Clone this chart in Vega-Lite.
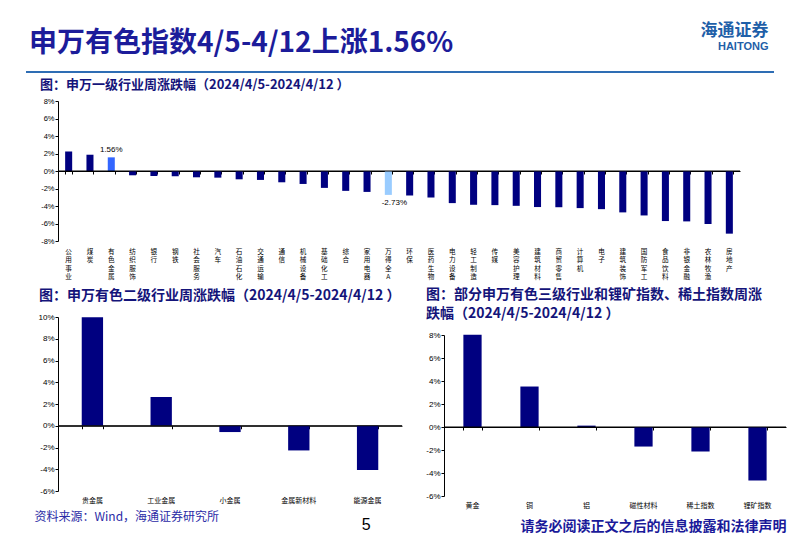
{
  "$schema": "https://vega.github.io/schema/vega-lite/v6.json",
  "padding": {"left": 25, "top": 22, "right": 0, "bottom": 0},
  "background": "white",
  "title": {"text": "海通证券", "subtitle": "HAITONG", "anchor": "end", "orient": "top", "offset": -23, "dx": -18, "fontSize": 17, "font": "Noto Sans CJK SC", "fontWeight": "bold", "color": "#1F5FA8", "subtitleFont": "Liberation Sans", "subtitleFontWeight": "bold", "subtitleFontSize": 11, "subtitleColor": "#1F5FA8", "subtitlePadding": 1},
  "datasets": {
    "top": [
      {"name": "公用事业", "v": 2.23, "g": "o"},
      {"name": "煤炭", "v": 1.86, "g": "o"},
      {"name": "有色金属", "v": 1.56, "g": "y", "lbl": "1.56%"},
      {"name": "纺织服饰", "v": -0.49, "g": "o"},
      {"name": "银行", "v": -0.57, "g": "o"},
      {"name": "钢铁", "v": -0.60, "g": "o"},
      {"name": "社会服务", "v": -0.72, "g": "o"},
      {"name": "汽车", "v": -0.76, "g": "o"},
      {"name": "石油石化", "v": -0.95, "g": "o"},
      {"name": "交通运输", "v": -1.02, "g": "o"},
      {"name": "通信", "v": -1.29, "g": "o"},
      {"name": "机械设备", "v": -1.48, "g": "o"},
      {"name": "基础化工", "v": -1.93, "g": "o"},
      {"name": "综合", "v": -2.27, "g": "o"},
      {"name": "家用电器", "v": -2.39, "g": "o"},
      {"name": "万得全A", "v": -2.73, "g": "a", "lbl": "-2.73%"},
      {"name": "环保", "v": -2.80, "g": "o"},
      {"name": "医药生物", "v": -3.03, "g": "o"},
      {"name": "电力设备", "v": -3.67, "g": "o"},
      {"name": "轻工制造", "v": -3.86, "g": "o"},
      {"name": "传媒", "v": -3.90, "g": "o"},
      {"name": "美容护理", "v": -3.98, "g": "o"},
      {"name": "建筑材料", "v": -4.12, "g": "o"},
      {"name": "商贸零售", "v": -4.14, "g": "o"},
      {"name": "计算机", "v": -4.24, "g": "o"},
      {"name": "电子", "v": -4.36, "g": "o"},
      {"name": "建筑装饰", "v": -4.73, "g": "o"},
      {"name": "国防军工", "v": -5.08, "g": "o"},
      {"name": "食品饮料", "v": -5.72, "g": "o"},
      {"name": "非银金融", "v": -5.76, "g": "o"},
      {"name": "农林牧渔", "v": -6.06, "g": "o"},
      {"name": "房地产", "v": -7.16, "g": "o"}
    ],
    "l2": [
      {"name": "贵金属", "v": 9.98},
      {"name": "工业金属", "v": 2.64},
      {"name": "小金属", "v": -0.58},
      {"name": "金属新材料", "v": -2.27},
      {"name": "能源金属", "v": -4.08}
    ],
    "l3": [
      {"name": "黄金", "v": 8.02},
      {"name": "铜", "v": 3.52},
      {"name": "铝", "v": 0.12},
      {"name": "磁性材料", "v": -1.70},
      {"name": "稀土指数", "v": -2.14},
      {"name": "锂矿指数", "v": -4.65}
    ],
    "zero": [{"z": 0}],
    "line": [{"a": 0, "b": 1}]
  },
  "config": {"view": {"stroke": null}, "axis": {"grid": false}},
  "spacing": 6,
  "resolve": {"scale": {"x": "independent", "y": "independent", "color": "independent"}},
  "vconcat": [
    {
      "width": 716,
      "height": 2,
      "title": {"text": "申万有色指数4/5-4/12上涨1.56%", "anchor": "start", "frame": "group", "dx": -29, "offset": 13, "fontSize": 28, "fontWeight": "bold", "font": "Noto Sans CJK SC", "color": "#1C1C9A"},
      "data": {"name": "line"},
      "mark": {"type": "rule", "color": "#2E6DB4", "strokeWidth": 2},
      "encoding": {
        "x": {"field": "a", "type": "quantitative", "scale": {"domain": [0, 1], "range": [-32, 716]}, "axis": null},
        "x2": {"field": "b"}
      }
    },
    {
      "spacing": 7,
      "resolve": {"scale": {"x": "independent", "y": "independent", "color": "independent"}},
      "vconcat": [
        {
          "width": 682,
          "height": 140,
          "title": {"text": "图：申万一级行业周涨跌幅（2024/4/5-2024/4/12 ）", "anchor": "start", "frame": "group", "dx": -18, "offset": 5, "fontSize": 13, "fontWeight": "bold", "font": "Noto Sans CJK SC", "color": "#14147A"},
          "data": {"name": "top"},
          "resolve": {"axis": {"x": "independent"}},
          "layer": [
            {
              "mark": {"type": "bar"},
              "encoding": {
                "x": {"field": "name", "type": "nominal", "sort": null, "scale": {"paddingInner": 0.67, "paddingOuter": 0.335},
                  "axis": {"orient": "bottom", "title": null, "labelAngle": 0, "labelExpr": "split(datum.label, '')", "labelFontSize": 6.6, "labelLineHeight": 8.6, "labelPadding": 7, "labelBaseline": "top", "ticks": false, "domain": false, "labelFont": "Noto Sans CJK SC", "labelColor": "#000", "labelOverlap": false}},
                "y": {"field": "v", "type": "quantitative", "scale": {"domain": [-8, 8], "nice": false},
                  "axis": {"values": [-8, -6, -4, -2, 0, 2, 4, 6, 8], "tickCount": 20, "labelExpr": "datum.value + '%'", "title": null, "labelFontSize": 7.5, "labelFont": "Liberation Sans", "labelColor": "#000", "tickSize": 3, "tickColor": "#000", "domainColor": "#000", "minExtent": 31, "labelPadding": 1, "labelOverlap": false}},
                "color": {"field": "g", "type": "nominal", "scale": {"domain": ["o", "y", "a"], "range": ["#000080", "#3366FF", "#99CCFF"]}, "legend": null}
              }
            },
            {
              "mark": {"type": "text", "text": ""},
              "encoding": {
                "x": {"field": "name", "type": "nominal", "sort": null,
                  "axis": {"orient": "top", "offset": -70, "labels": false, "title": null, "ticks": true, "domain": true, "tickBand": "extent", "tickSize": -3, "tickColor": "#000", "domainColor": "#000"}}
              }
            },
            {
              "data": {"name": "zero"},
              "mark": {"type": "rule", "color": "#000", "strokeWidth": 1},
              "encoding": {"y": {"field": "z", "type": "quantitative"}}
            },
            {
              "transform": [{"filter": "datum.lbl && datum.v > 0"}],
              "mark": {"type": "text", "baseline": "bottom", "dy": -3, "fontSize": 8, "font": "Liberation Sans", "color": "#000"},
              "encoding": {"x": {"field": "name", "type": "nominal", "sort": null, "axis": null}, "y": {"field": "v", "type": "quantitative"}, "text": {"field": "lbl", "type": "nominal"}}
            },
            {
              "transform": [{"filter": "datum.lbl && datum.v < 0"}],
              "mark": {"type": "text", "baseline": "top", "dy": 4, "dx": 6, "fontSize": 8, "font": "Liberation Sans", "color": "#000"},
              "encoding": {"x": {"field": "name", "type": "nominal", "sort": null, "axis": null}, "y": {"field": "v", "type": "quantitative"}, "text": {"field": "lbl", "type": "nominal"}}
            }
          ]
        },
        {
          "spacing": 22,
          "resolve": {"scale": {"x": "independent", "y": "independent", "color": "independent"}},
          "title": {"text": "5", "orient": "bottom", "anchor": "middle", "dx": -40, "offset": -16, "fontSize": 16, "fontWeight": "normal", "font": "Liberation Sans", "color": "#000"},
          "hconcat": [
            {
              "width": 344,
              "height": 174,
              "title": {"text": "图：申万有色二级行业周涨跌幅（2024/4/5-2024/4/12 ）", "anchor": "start", "frame": "group", "dx": -19, "offset": 10, "fontSize": 14, "fontWeight": "bold", "font": "Noto Sans CJK SC", "color": "#14147A"},
              "data": {"name": "l2"},
              "resolve": {"axis": {"x": "independent"}},
              "layer": [
                {
                  "mark": {"type": "bar", "color": "#000080"},
                  "encoding": {
                    "x": {"field": "name", "type": "nominal", "sort": null, "scale": {"paddingInner": 0.69, "paddingOuter": 0.345},
                      "axis": {"orient": "bottom", "title": "资料来源：Wind，海通证券研究所", "titleAnchor": "start", "titleAlign": "left", "titleX": -24, "titlePadding": 8, "titleFontSize": 12, "titleFontWeight": "normal", "titleColor": "#2B2BA6", "titleFont": "Noto Sans CJK SC", "labelAngle": 0, "labelFontSize": 7, "labelPadding": 5, "ticks": false, "domain": false, "labelFont": "Noto Sans CJK SC", "labelColor": "#000"}},
                    "y": {"field": "v", "type": "quantitative", "scale": {"domain": [-6, 10], "nice": false},
                      "axis": {"values": [-6, -4, -2, 0, 2, 4, 6, 8, 10], "tickCount": 20, "labelExpr": "datum.value + '%'", "title": null, "labelFontSize": 8, "labelFont": "Liberation Sans", "labelColor": "#000", "tickSize": 3, "tickColor": "#000", "domainColor": "#000", "minExtent": 32, "labelPadding": 1, "labelOverlap": false}}
                  }
                },
                {
                  "mark": {"type": "text", "text": ""},
                  "encoding": {
                    "x": {"field": "name", "type": "nominal", "sort": null,
                      "axis": {"orient": "top", "offset": -108.75, "labels": false, "title": null, "ticks": true, "domain": true, "tickBand": "extent", "tickSize": -3, "tickColor": "#000", "domainColor": "#000"}}
                  }
                },
                {
                  "data": {"name": "zero"},
                  "mark": {"type": "rule", "color": "#000", "strokeWidth": 1},
                  "encoding": {"y": {"field": "z", "type": "quantitative"}}
                }
              ]
            },
            {
              "width": 342,
              "height": 179,
              "title": {"text": ["图：部分申万有色三级行业和锂矿指数、稀土指数周涨", "跌幅（2024/4/5-2024/4/12 ）"], "anchor": "start", "frame": "group", "dx": -18, "offset": -4, "fontSize": 14, "lineHeight": 19, "fontWeight": "bold", "font": "Noto Sans CJK SC", "color": "#14147A"},
              "data": {"name": "l3"},
              "resolve": {"axis": {"x": "independent"}},
              "layer": [
                {
                  "mark": {"type": "bar", "color": "#000080"},
                  "encoding": {
                    "x": {"field": "name", "type": "nominal", "sort": null, "scale": {"paddingInner": 0.68, "paddingOuter": 0.34},
                      "axis": {"orient": "bottom", "title": "请务必阅读正文之后的信息披露和法律声明", "titleAnchor": "end", "titlePadding": 11, "titleFontSize": 14, "titleFontWeight": "bold", "titleColor": "#1A1A9A", "titleFont": "Noto Sans CJK SC", "labelAngle": 0, "labelFontSize": 7, "labelPadding": 5, "ticks": false, "domain": false, "labelFont": "Noto Sans CJK SC", "labelColor": "#000"}},
                    "y": {"field": "v", "type": "quantitative", "scale": {"domain": [-6, 8], "nice": false, "range": [179, 18]},
                      "axis": {"values": [-6, -4, -2, 0, 2, 4, 6, 8], "tickCount": 20, "labelExpr": "datum.value + '%'", "title": null, "labelFontSize": 8, "labelFont": "Liberation Sans", "labelColor": "#000", "tickSize": 3, "tickColor": "#000", "domainColor": "#000", "minExtent": 18, "labelPadding": 1, "labelOverlap": false}}
                  }
                },
                {
                  "mark": {"type": "text", "text": ""},
                  "encoding": {
                    "x": {"field": "name", "type": "nominal", "sort": null,
                      "axis": {"orient": "top", "offset": -110, "labels": false, "title": null, "ticks": true, "domain": true, "tickBand": "extent", "tickSize": -3, "tickColor": "#000", "domainColor": "#000"}}
                  }
                },
                {
                  "data": {"name": "zero"},
                  "mark": {"type": "rule", "color": "#000", "strokeWidth": 1},
                  "encoding": {"y": {"field": "z", "type": "quantitative"}}
                }
              ]
            }
          ]
        }
      ]
    }
  ]
}
